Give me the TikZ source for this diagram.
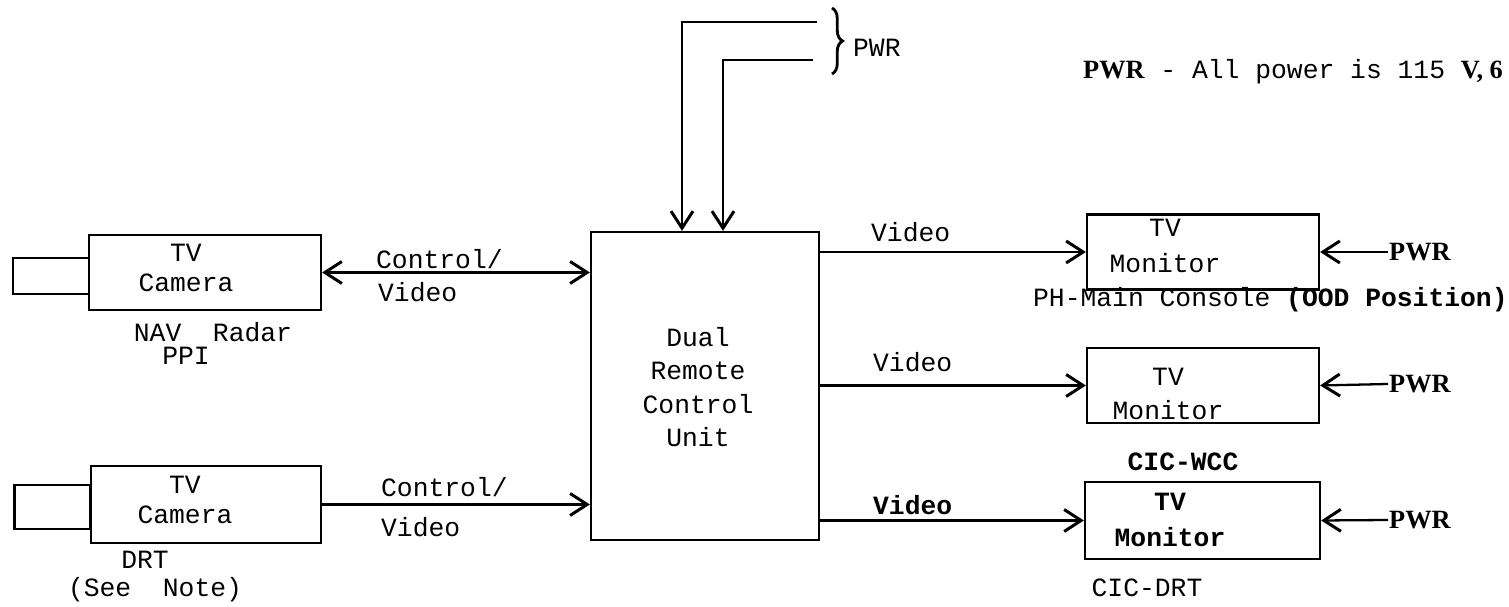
\documentclass[tikz,border=0pt]{standalone}
\usepackage{fontspec}
\setmainfont{Liberation Serif}
\setmonofont{Liberation Mono}
\usetikzlibrary{arrows.meta,decorations.pathreplacing}

\begin{document}
\begin{tikzpicture}[x=0.02cm, y=-0.02cm, line width=1.3pt,
    every node/.style={font=\ttfamily\fontsize{15}{17}\selectfont, inner sep=0pt, align=center}]
  \tikzstyle{unit}=[draw, minimum width=4.64cm, minimum height=1.5cm]
  \tikzstyle{lens}=[draw, minimum width=1.52cm]
  \tikzstyle{arr}=[-{Straight Barb[length=3.4mm,width=4.4mm,line width=1.7pt]}]
  \tikzstyle{biarr}=[{Straight Barb[length=3.4mm,width=4.4mm,line width=1.7pt]}-{Straight Barb[length=3.4mm,width=4.4mm,line width=1.7pt]}]
  \tikzstyle{pwr}=[font=\rmfamily\bfseries\fontsize{15}{17}\selectfont, anchor=west]
  \useasboundingbox (0,0) rectangle (1509,607);

  % cameras
  \node[unit] (cam1) at (205,272.5) {};
  \node[lens, minimum height=0.72cm] (lens1) at (51,276) {};
  \node (cam1txt) at (186,268) {TV\\Camera};
  \node (nav) at (213,332) {NAV\ \ Radar};
  \node (ppi) at (186,356) {PPI};

  \node[unit, minimum width=4.6cm, minimum height=1.54cm] (cam2) at (206,504.5) {};
  \node[lens, minimum height=0.88cm] (lens2) at (52.5,507) {};
  \node (cam2txt) at (185,500) {TV\\Camera};
  \node (drt) at (145,560) {DRT};
  \node (note) at (155,590) {(See\ \ Note)};

  % control unit
  \node[draw, minimum width=4.56cm, minimum height=6.16cm] (main) at (705,386) {};
  \node[font=\ttfamily\fontsize{15}{19}\selectfont] (maintxt) at (698,387) {Dual\\Remote\\Control\\Unit};

  % monitors
  \node[unit] (mon1) at (1203,252) {};
  \node[font=\ttfamily\fontsize{15}{20}\selectfont] (mon1txt) at (1165,246) {TV\\Monitor};
  \node[anchor=west] (ph) at (1032,300) {PH-Main Console {\bfseries(OOD Position)}};

  \node[unit] (mon2) at (1203,385.5) {};
  \node[font=\ttfamily\fontsize{15}{19}\selectfont] (mon2txt) at (1168,394) {TV\\Monitor};

  \node[unit, minimum width=4.7cm, minimum height=1.54cm] (mon3) at (1202.5,520.5) {};
  \node[font=\ttfamily\bfseries\fontsize{15}{20}\selectfont] (mon3txt) at (1170,520) {TV\\Monitor};
  \node[font=\ttfamily\bfseries\fontsize{15}{17}\selectfont] (wcc) at (1183,462) {CIC-WCC};
  \node (cicdrt) at (1147,588) {CIC-DRT};

  % power
  \node[pwr] (p1) at (1388,252) {PWR};
  \node[pwr] (p2) at (1388,384) {PWR};
  \node[pwr] (p3) at (1388,520) {PWR};
  \draw[arr] (p1.west) -- (mon1.east);
  \draw[arr] (p2.west) -- (mon2.east);
  \draw[arr] (p3.west) -- (mon3.east);

  \coordinate (pwA) at (817,22);
  \coordinate (pwB) at (813,60);
  \draw[arr] (pwA) -- (682,22) -- (682,22 |- main.north);
  \draw[arr] (pwB) -- (723,60) -- (723,60 |- main.north);
  \draw[decorate, decoration={brace, amplitude=6pt}, line width=1.6pt] (832,8) -- (832,74);
  \node[anchor=west] (pwrtop) at (852,48) {PWR};
  \node[anchor=west] (remark) at (1082,72) {{\rmfamily\bfseries PWR} - All power is 115 {\rmfamily\bfseries V, 6}};

  % links
  \draw[biarr] (cam1.east) -- (cam1.east -| main.west);
  \node[anchor=west] (cv1a) at (375,259) {Control/};
  \node[anchor=west] (cv1b) at (377,292) {Video};

  \draw[arr] (cam2.east) -- (cam2.east -| main.west);
  \node[anchor=west] (cv2a) at (380,487) {Control/};
  \node[anchor=west] (cv2b) at (380,527) {Video};

  \draw[arr] (mon1.west -| main.east) -- (mon1.west);
  \node[anchor=west] (v1) at (870,232) {Video};
  \draw[arr] (mon2.west -| main.east) -- (mon2.west);
  \node[anchor=west] (v2) at (872,362) {Video};
  \draw[arr] (mon3.west -| main.east) -- (mon3.west);
  \node[anchor=west, font=\ttfamily\bfseries\fontsize{15}{17}\selectfont] (v3) at (872,505) {Video};
\end{tikzpicture}
\end{document}
